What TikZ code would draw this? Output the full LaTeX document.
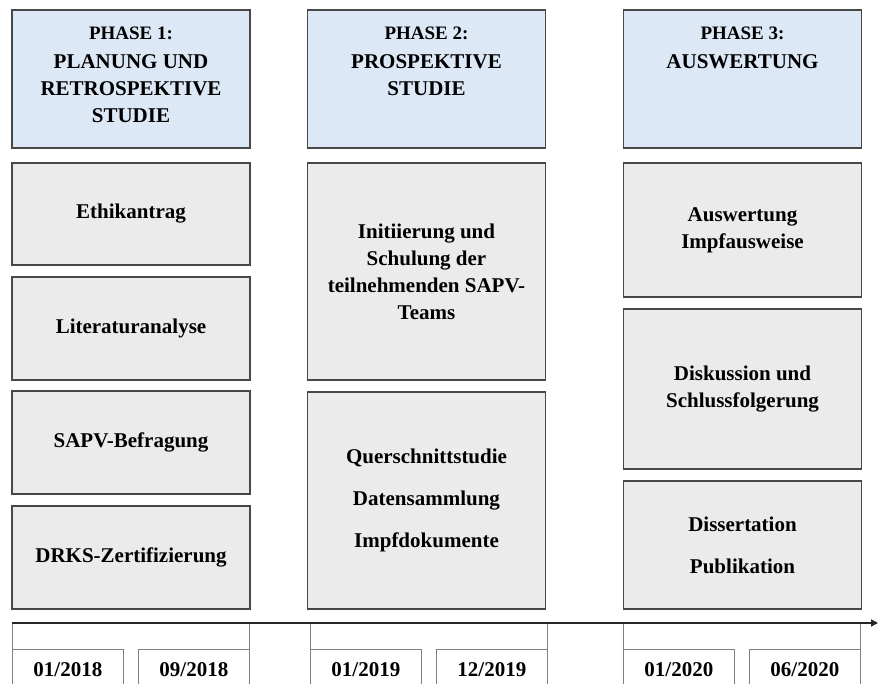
\documentclass[tikz,border=0pt]{standalone}
\usepackage{fontspec}
\setmainfont{Liberation Serif}
\usetikzlibrary{arrows.meta}
\definecolor{headblue}{RGB}{221,232,246}
\definecolor{boxgray}{RGB}{235,235,235}
\definecolor{edgegray}{RGB}{72,72,72}
\begin{document}
\begin{tikzpicture}[
    x=1pt, y=-1pt,
    font=\bfseries\fontsize{21}{27}\selectfont,
    phasehead/.style={draw=edgegray, line width=1.8pt, fill=headblue, minimum width=238pt, minimum height=138pt},
    headtext/.style={anchor=north, align=center, inner sep=0pt},
    task/.style={draw=edgegray, line width=1.8pt, fill=boxgray, align=center, minimum width=238pt},
    segframe/.style={draw=gray, line width=0.8pt, minimum width=237pt, minimum height=90pt, anchor=north},
    datebox/.style={draw=gray, line width=0.8pt, minimum width=111pt, minimum height=40pt, anchor=north west, inner sep=0pt},
    timeline/.style={line width=1.4pt, draw=black!85, -{Triangle[length=7pt,width=7pt]}}
]
\useasboundingbox (0,0) rectangle (878,684);

% Phase headers
\node[phasehead] (h1) at (131, 79) {};
\node[phasehead] (h2) at (426.5, 79) {};
\node[phasehead] (h3) at (742.5, 79) {};
\node[headtext] (h1t) at (131, 26.5) {{\fontsize{19}{27}\selectfont PHASE 1:}\\[2pt]PLANUNG UND\\RETROSPEKTIVE\\STUDIE};
\node[headtext] (h2t) at (426.5, 26.5) {{\fontsize{19}{27}\selectfont PHASE 2:}\\[2pt]PROSPEKTIVE\\STUDIE};
\node[headtext] (h3t) at (742.5, 26.5) {{\fontsize{19}{27}\selectfont PHASE 3:}\\[2pt]AUSWERTUNG};

% Phase 1 tasks
\node[task, minimum height=102pt] (ethik) at (131, 214) {Ethikantrag};
\node[task, minimum height=103pt] (lit) at (131, 328.5) {Literaturanalyse};
\node[task, minimum height=103pt] (sapv) at (131, 442.5) {SAPV-Befragung};
\node[task, minimum height=103pt] (drks) at (131, 557.5) {DRKS-Zertifizierung};

% Phase 2 tasks
\node[task, minimum height=217pt] (init) at (426.5, 271.5) {Initiierung und\\Schulung der\\teilnehmenden SAPV-\\Teams};
\node[task, minimum height=217pt] (quer) at (426.5, 500.5) {Querschnittstudie\\[15pt]Datensammlung\\[15pt]Impfdokumente};

% Phase 3 tasks
\node[task, minimum height=134pt] (ausw) at (742.5, 230) {Auswertung\\Impfausweise};
\node[task, minimum height=160pt] (disk) at (742.5, 389) {Diskussion und\\Schlussfolgerung};
\node[task, minimum height=128pt] (diss) at (742.5, 545) {Dissertation\\[15pt]Publikation};

% Timeline
\node[segframe] (seg1) at (131, 623) {};
\node[segframe] (seg2) at (428.5, 623) {};
\node[segframe] (seg3) at (742, 623) {};
\node[datebox] (d1) at (12, 649) {01/2018};
\node[datebox] (d2) at (138, 649) {09/2018};
\node[datebox] (d3) at (310, 649) {01/2019};
\node[datebox] (d4) at (436, 649) {12/2019};
\node[datebox] (d5) at (623, 649) {01/2020};
\node[datebox] (d6) at (749, 649) {06/2020};
\coordinate (tstart) at (12, 623);
\coordinate (tend) at (878, 623);
\draw[timeline] (tstart) -- (tend);

\end{tikzpicture}
\end{document}
